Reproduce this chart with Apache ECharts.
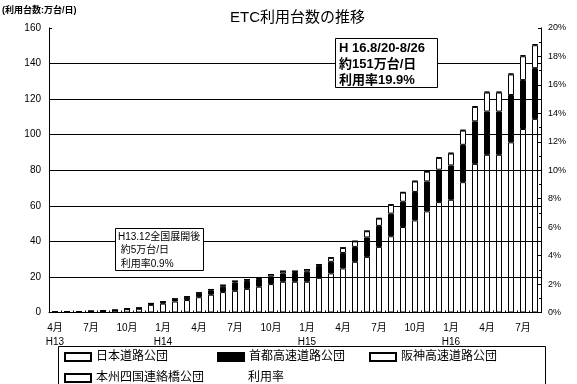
<!DOCTYPE html>
<html><head><meta charset="utf-8">
<script src="https://cdn.jsdelivr.net/npm/echarts@6/dist/echarts.min.js"></script>
<style>html,body{margin:0;padding:0;background:#fff}#c{width:577px;height:384px}</style>
</head><body><div id="c"></div>
<script>
var categories = ['H13.4','H13.5','H13.6','H13.7','H13.8','H13.9','H13.10','H13.11','H13.12',
  'H14.1','H14.2','H14.3','H14.4','H14.5','H14.6','H14.7','H14.8','H14.9','H14.10','H14.11','H14.12',
  'H15.1','H15.2','H15.3','H15.4','H15.5','H15.6','H15.7','H15.8','H15.9','H15.10','H15.11','H15.12',
  'H16.1','H16.2','H16.3','H16.4','H16.5','H16.6','H16.7','H16.8'];
var jhValues = [0.2,0.4,0.5,0.6,0.8,1.1,1.9,2.1,4.3,5.0,6.2,7.0,8.6,10.0,11.5,12.2,13.3,14.5,16.0,17.3,17.3,
  17.3,19.5,22.0,24.8,28.5,31.3,36.9,42.9,48.1,51.8,56.9,62.1,63.4,73.3,83.6,88.7,88.7,95.7,103.2,108.9];
var shutoValues = [0,0,0,0.1,0.1,0.15,0.2,0.3,0.5,0.7,1.1,1.4,2.0,2.4,3.0,4.7,4.5,4.3,4.1,4.7,4.9,
  5.6,6.7,6.5,8.7,8.4,10.9,11.8,12.7,14.2,16.0,16.8,18.2,19.3,21.0,23.9,24.3,24.3,26.6,27.5,28.5];
var hanshinValues = [0,0,0,0,0,0.05,0.1,0.1,0.25,0.3,0.3,0.4,0.4,0.5,0.8,0.7,0.7,0.6,1.2,1.2,1.0,
  1.2,0.7,2.2,2.8,3.1,3.5,4.1,4.9,5.1,5.9,5.5,6.6,6.7,8.0,8.1,10.7,10.7,11.6,13.4,12.9];
var honshiValues = [0,0,0,0,0,0,0,0,0.1,0.1,0.1,0.1,0.1,0.1,0.1,0.1,0.1,0.1,0.1,0.1,0.1,
  0.1,0.1,0.2,0.2,0.2,0.2,0.3,0.3,0.3,0.3,0.3,0.4,0.4,0.4,0.5,0.5,0.5,0.5,0.6,0.7];
var usageRateValues = [];
var leftTicks = [0,20,40,60,80,100,120,140,160];
var rightTicks = [0,2,4,6,8,10,12,14,16,18,20];
var seriesNames = ['日本道路公団','首都高速道路公団','阪神高速道路公団','本州四国連絡橋公団','利用率'];

var FONT = '"Liberation Sans","Noto Sans CJK JP",sans-serif';
var chart = echarts.init(document.getElementById('c'), null, {renderer:'canvas'});
var barStyle = function(fill){ return {color: fill, borderColor:'#000', borderWidth:1}; };
var legendBase = function(left, top, name){
  return {left:left, top:top, padding:0, itemWidth:26, itemHeight:8, itemGap:0, selectedMode:false, icon:'rect',
    textStyle:{fontSize:12, color:'#000', fontFamily:FONT}, data:[name]};
};
chart.setOption({
  animation:false,
  textStyle:{fontFamily:FONT},
  grid:{left:49, right:36, top:28, bottom:71.5},
  graphic:[
    {type:'text', left:230, top:10, style:{text:'ETC利用台数の推移', font:'15px '+FONT, fill:'#000'}},
    {type:'text', left:2, top:6, style:{text:'(利用台数:万台/日)', font:'bold 9px '+FONT, fill:'#000'}},
    {type:'rect', shape:{x:58.5, y:346.5, width:487, height:60}, style:{fill:'none', stroke:'#000', lineWidth:1}, z:100},
    {type:'rect', shape:{x:115.5, y:228.5, width:88, height:42}, style:{fill:'#fff', stroke:'#000', lineWidth:1}, z:100},
    {type:'text', x:118, y:230, z:101, style:{text:'H13.12全国展開後\n 約5万台/日\n 利用率0.9%', font:'10px '+FONT, lineHeight:13.5, fill:'#000'}},
    {type:'rect', shape:{x:335.5, y:38.5, width:102, height:49}, style:{fill:'#fff', stroke:'#000', lineWidth:1}, z:100},
    {type:'text', x:339, y:40, z:101, style:{text:'H 16.8/20-8/26\n約151万台/日\n利用率19.9%', font:'bold 13px '+FONT, lineHeight:16, fill:'#000'}}
  ],
  legend:[
    legendBase(64, 351, seriesNames[0]),
    legendBase(217, 351, seriesNames[1]),
    legendBase(369, 351, seriesNames[2]),
    legendBase(64, 372, seriesNames[3]),
    (function(){ var l = legendBase(217, 372, seriesNames[4]); l.data = [{name:seriesNames[4], itemStyle:{opacity:0}, lineStyle:{opacity:0}}]; return l; })()
  ],
  xAxis:{
    type:'category', data:categories, boundaryGap:true,
    axisLine:{lineStyle:{color:'#000', width:1}},
    axisTick:{show:true, inside:true, length:2, interval:0, lineStyle:{color:'#000'}},
    axisLabel:{interval:0, margin:9, fontSize:10, color:'#000', lineHeight:14,
      formatter:function(v, idx){
        var p = v.split('.'); var m = parseInt(p[1],10);
        if (m % 3 !== 1) return '';
        var s = m + '月';
        if (idx === 0 || m === 1) s += '\n' + p[0];
        return s;
      }}
  },
  yAxis:[
    {type:'value', min:leftTicks[0], max:leftTicks[leftTicks.length-1], interval:leftTicks[1]-leftTicks[0],
      axisLine:{show:true, lineStyle:{color:'#000'}},
      axisTick:{show:true, inside:true, length:3, lineStyle:{color:'#000'}},
      axisLabel:{margin:8, fontSize:10, color:'#000'},
      splitLine:{show:true, lineStyle:{color:['#000','#000','#000','#000','#000','#000','#000','#000','rgba(0,0,0,0)'], width:1}}},
    {type:'value', min:rightTicks[0], max:rightTicks[rightTicks.length-1], interval:rightTicks[1]-rightTicks[0], position:'right',
      axisLine:{show:true, lineStyle:{color:'#000'}},
      axisTick:{show:true, inside:true, length:3, lineStyle:{color:'#000'}},
      minorTick:{show:true, splitNumber:2, length:2, lineStyle:{color:'#000'}},
      axisLabel:{margin:7, fontSize:9, color:'#000', formatter:'{value}%'},
      splitLine:{show:false}}
  ],
  series:[
    {name:seriesNames[0], type:'bar', stack:'t', barWidth:6, data:jhValues, itemStyle:barStyle('rgba(255,255,255,0)')},
    {name:seriesNames[1], type:'bar', stack:'t', barWidth:6, data:shutoValues, itemStyle:barStyle('#000')},
    {name:seriesNames[2], type:'bar', stack:'t', barWidth:6, data:hanshinValues, itemStyle:barStyle('#fff')},
    {name:seriesNames[3], type:'bar', stack:'t', barWidth:6, data:honshiValues, itemStyle:barStyle('#fff')},
    {name:seriesNames[4], type:'line', yAxisIndex:1, data:usageRateValues, symbol:'none', lineStyle:{color:'#000', width:1}}
  ]
});
</script></body></html>
